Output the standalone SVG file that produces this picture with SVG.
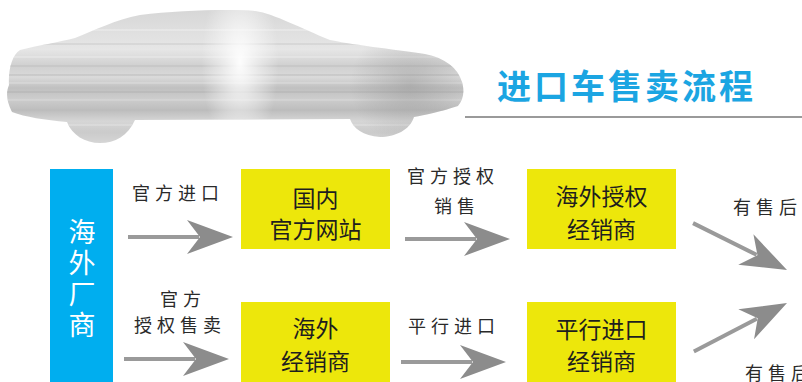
<svg xmlns="http://www.w3.org/2000/svg" width="802" height="382" viewBox="0 0 802 382">
  <defs>
    <style>
      .title { font-family: "Noto Sans CJK SC", "Noto Sans", sans-serif; font-weight: 700; font-size: 34px; fill: #1ba5e2; letter-spacing: 3px; }
      .src { fill: #00aeef; }
      .srctext { font-family: "Noto Sans CJK SC", sans-serif; font-size: 27px; fill: #ffffff; writing-mode: vertical-rl; text-anchor: middle; letter-spacing: 4px; }
      .box { fill: #ede70b; }
      .boxtext { font-family: "Noto Sans CJK SC", sans-serif; font-size: 23px; fill: #1e1e1e; text-anchor: middle; dominant-baseline: central; }
      .lbl { font-family: "Noto Sans CJK SC", sans-serif; font-weight: 400; font-size: 18px; fill: #2a2a2a; letter-spacing: 5px; dominant-baseline: central; }
      .shaft { stroke: #9a9a9a; stroke-width: 4; fill: none; }
      .head { fill: #8c8c8c; }
    </style>
    <!-- one arrow, pointing along +x with its tip at the origin -->
    <g id="arrow">
      <line class="shaft" x1="-105" y1="0" x2="-34" y2="0"/>
      <polygon class="head" points="0,0 -46,-17 -33,0 -46,17"/>
    </g>
    <linearGradient id="carBody" x1="0" y1="0" x2="0" y2="1">
      <stop offset="0" stop-color="#d6d6d6"/>
      <stop offset="0.15" stop-color="#dedede"/>
      <stop offset="0.3" stop-color="#e6e6e6"/>
      <stop offset="0.42" stop-color="#d0d0d0"/>
      <stop offset="0.5" stop-color="#dadada"/>
      <stop offset="0.58" stop-color="#c0c0c0"/>
      <stop offset="0.66" stop-color="#cdcdcd"/>
      <stop offset="0.74" stop-color="#bdbdbd"/>
      <stop offset="0.82" stop-color="#d6d6d6"/>
      <stop offset="0.9" stop-color="#cbcbcb"/>
      <stop offset="1" stop-color="#d8d8d8"/>
    </linearGradient>
    <radialGradient id="carShine" cx="240" cy="62" r="70" gradientUnits="userSpaceOnUse" gradientTransform="translate(240 62) scale(0.55 1.3) translate(-240 -62)">
      <stop offset="0" stop-color="#ffffff" stop-opacity="0.95"/>
      <stop offset="0.5" stop-color="#ffffff" stop-opacity="0.45"/>
      <stop offset="1" stop-color="#ffffff" stop-opacity="0"/>
    </radialGradient>
    <radialGradient id="carShade" cx="410" cy="85" r="60" gradientUnits="userSpaceOnUse">
      <stop offset="0" stop-color="#8a8a8a" stop-opacity="0.4"/>
      <stop offset="1" stop-color="#8a8a8a" stop-opacity="0"/>
    </radialGradient>
    <clipPath id="carClip">
      <path d="M 20,50 C 40,45 60,42 75,38 C 95,30 115,20 140,15 C 180,10 230,9 255,11 C 275,14 300,28 330,40 C 360,46 400,50 425,54 C 445,58 458,68 462,82 C 465,92 463,100 458,106 C 440,112 425,115 414,117 C 410,130 395,137 380,137 C 363,136 353,128 350,119 L 135,120 C 128,136 115,143 100,143 C 85,143 72,135 67,122 C 45,120 25,117 12,112 C 6,100 6,92 9,85 C 8,70 12,55 20,50 Z"/>
    </clipPath>
  </defs>

  <rect width="802" height="382" fill="#ffffff"/>

  <!-- brushed-metal car silhouette -->
  <g id="car" clip-path="url(#carClip)">
    <rect x="0" y="8" width="470" height="138" fill="url(#carBody)"/>
    <g stroke-width="1.5">
      <line x1="0" y1="30" x2="470" y2="30" stroke="#ffffff" stroke-opacity="0.35"/>
      <line x1="0" y1="44" x2="470" y2="44" stroke="#c4c4c4" stroke-opacity="0.5"/>
      <line x1="0" y1="57" x2="470" y2="57" stroke="#ffffff" stroke-opacity="0.3"/>
      <line x1="0" y1="66" x2="470" y2="66" stroke="#b8b8b8" stroke-opacity="0.45"/>
      <line x1="0" y1="75" x2="470" y2="75" stroke="#b0b0b0" stroke-opacity="0.45"/>
      <line x1="0" y1="83" x2="470" y2="83" stroke="#e6e6e6" stroke-opacity="0.5"/>
      <line x1="0" y1="92" x2="470" y2="92" stroke="#aaaaaa" stroke-opacity="0.45"/>
      <line x1="0" y1="100" x2="470" y2="100" stroke="#e2e2e2" stroke-opacity="0.5"/>
      <line x1="0" y1="110" x2="470" y2="110" stroke="#bcbcbc" stroke-opacity="0.45"/>
      <line x1="0" y1="125" x2="470" y2="125" stroke="#e2e2e2" stroke-opacity="0.6"/>
    </g>
    <rect x="0" y="8" width="470" height="138" fill="url(#carShade)"/>
    <rect x="0" y="8" width="470" height="138" fill="url(#carShine)"/>
  </g>

  <!-- heading -->
  <g id="heading">
    <text class="title" x="497" y="99">进口车售卖流程</text>
    <line x1="465" y1="117" x2="802" y2="117" stroke="#9a9a9a" stroke-width="2"/>
  </g>

  <!-- source -->
  <g id="maker">
    <rect class="src" x="50" y="169" width="63" height="213"/>
    <text class="srctext" x="82" y="280">海外厂商</text>
  </g>

  <!-- channels -->
  <g id="domestic-site">
    <rect class="box" x="241" y="169" width="149" height="80"/>
    <text class="boxtext" x="315.5" y="197">国内</text>
    <text class="boxtext" x="315.5" y="228">官方网站</text>
  </g>
  <g id="overseas-dealer">
    <rect class="box" x="241" y="302" width="149" height="80"/>
    <text class="boxtext" x="315.5" y="327">海外</text>
    <text class="boxtext" x="315.5" y="360">经销商</text>
  </g>
  <g id="authorized-dealer">
    <rect class="box" x="527" y="169" width="149" height="80"/>
    <text class="boxtext" x="601.5" y="195">海外授权</text>
    <text class="boxtext" x="601.5" y="228">经销商</text>
  </g>
  <g id="parallel-dealer">
    <rect class="box" x="527" y="302" width="149" height="80"/>
    <text class="boxtext" x="601.5" y="328">平行进口</text>
    <text class="boxtext" x="601.5" y="360">经销商</text>
  </g>

  <!-- connectors -->
  <g id="connectors">
    <use href="#arrow" transform="translate(233 237)"/>
    <use href="#arrow" transform="translate(229 359)"/>
    <use href="#arrow" transform="translate(510 239)"/>
    <use href="#arrow" transform="translate(506 362)"/>
    <use href="#arrow" transform="translate(787 270) rotate(26.5)"/>
    <use href="#arrow" transform="translate(787 303) rotate(-27.5)"/>

    <text class="lbl" x="132" y="192">官方进口</text>
    <text class="lbl" x="160" y="298">官方</text>
    <text class="lbl" x="134" y="324">授权售卖</text>
    <text class="lbl" x="407" y="175">官方授权</text>
    <text class="lbl" x="434" y="205">销售</text>
    <text class="lbl" x="408" y="325">平行进口</text>
    <text class="lbl" x="733" y="206">有售后</text>
    <text class="lbl" x="745" y="372">有售后</text>
  </g>
</svg>
